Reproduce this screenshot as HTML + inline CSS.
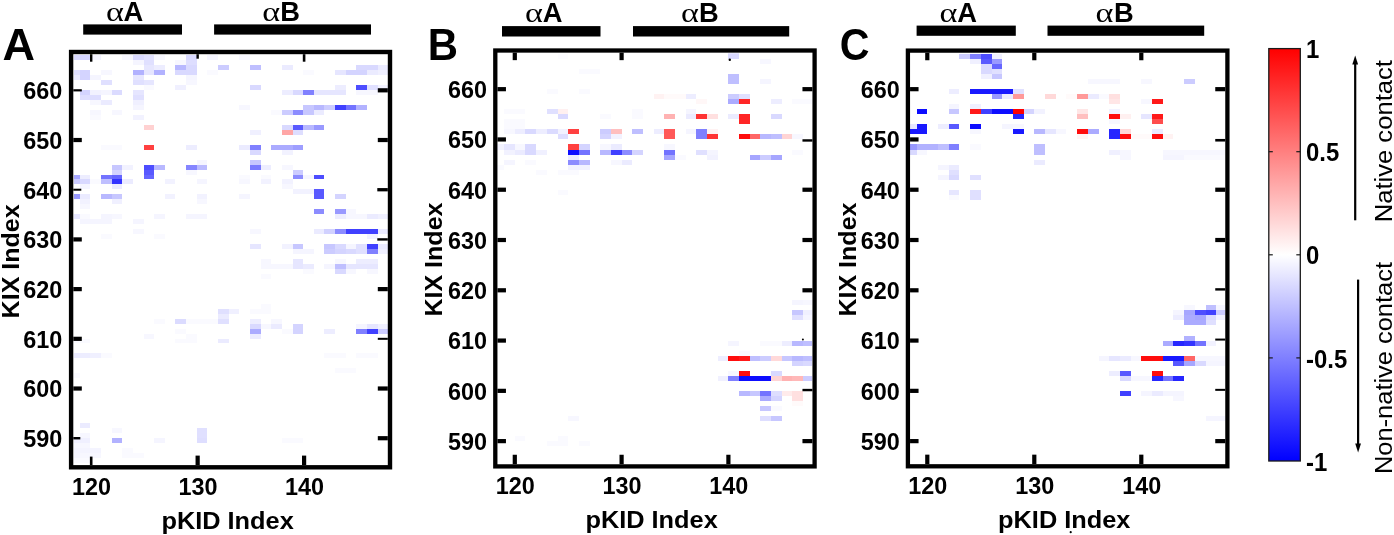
<!DOCTYPE html>
<html><head><meta charset="utf-8"><title>Contact maps</title>
<style>html,body{margin:0;padding:0;background:#fff;overflow:hidden}svg{display:block}text{fill:#000}</style>
</head><body>
<svg width="1394" height="535" viewBox="0 0 1394 535"><g id="panelA">
<g shape-rendering="crispEdges">
<rect x="74.33" y="457.80" width="15.97" height="4.97" fill="#fafaff"/>
<rect x="74.33" y="452.83" width="5.32" height="4.97" fill="#f5f5ff"/>
<rect x="79.66" y="452.83" width="21.29" height="4.97" fill="#f7f7ff"/>
<rect x="122.23" y="452.83" width="21.29" height="4.97" fill="#fafaff"/>
<rect x="74.33" y="447.86" width="26.61" height="4.97" fill="#f4f4ff"/>
<rect x="122.23" y="447.86" width="10.64" height="4.97" fill="#fafaff"/>
<rect x="74.33" y="442.89" width="15.97" height="4.97" fill="#f7f7ff"/>
<rect x="74.33" y="437.92" width="15.97" height="4.97" fill="#f0f0ff"/>
<rect x="111.59" y="437.92" width="10.64" height="4.97" fill="#b2b2ff"/>
<rect x="154.17" y="437.92" width="10.65" height="4.97" fill="#f5f5ff"/>
<rect x="196.75" y="437.92" width="10.64" height="4.97" fill="#dedeff"/>
<rect x="281.91" y="437.92" width="21.29" height="4.97" fill="#fafaff"/>
<rect x="79.66" y="432.95" width="10.64" height="4.97" fill="#f7f7ff"/>
<rect x="196.75" y="432.95" width="10.64" height="4.97" fill="#e0e0ff"/>
<rect x="111.59" y="427.98" width="10.64" height="4.97" fill="#f7f7ff"/>
<rect x="196.75" y="427.98" width="10.64" height="4.97" fill="#e0e0ff"/>
<rect x="79.66" y="423.01" width="10.64" height="4.97" fill="#ebebff"/>
<rect x="74.33" y="373.31" width="5.32" height="4.97" fill="#fafaff"/>
<rect x="335.13" y="368.34" width="21.29" height="4.97" fill="#fafaff"/>
<rect x="74.33" y="353.43" width="5.32" height="4.97" fill="#ebebff"/>
<rect x="79.66" y="353.43" width="10.64" height="4.97" fill="#ededff"/>
<rect x="90.30" y="353.43" width="10.64" height="4.97" fill="#f0f0ff"/>
<rect x="100.94" y="353.43" width="10.65" height="4.97" fill="#fafaff"/>
<rect x="324.49" y="353.43" width="21.29" height="4.97" fill="#fafaff"/>
<rect x="356.43" y="353.43" width="21.29" height="4.97" fill="#fafaff"/>
<rect x="74.33" y="338.52" width="15.97" height="4.97" fill="#fafaff"/>
<rect x="175.46" y="338.52" width="21.29" height="4.97" fill="#fafaff"/>
<rect x="218.04" y="338.52" width="10.65" height="4.97" fill="#ebebff"/>
<rect x="143.52" y="333.55" width="10.65" height="4.97" fill="#f7f7ff"/>
<rect x="186.10" y="333.55" width="10.65" height="4.97" fill="#fafaff"/>
<rect x="249.97" y="333.55" width="10.65" height="4.97" fill="#ebebff"/>
<rect x="175.46" y="328.58" width="10.65" height="4.97" fill="#fafaff"/>
<rect x="249.97" y="328.58" width="10.65" height="4.97" fill="#ababff"/>
<rect x="281.91" y="328.58" width="10.65" height="4.97" fill="#fafaff"/>
<rect x="292.56" y="328.58" width="10.64" height="4.97" fill="#d4d4ff"/>
<rect x="324.49" y="328.58" width="10.64" height="4.97" fill="#ededff"/>
<rect x="356.43" y="328.58" width="10.64" height="4.97" fill="#8080ff"/>
<rect x="367.07" y="328.58" width="10.64" height="4.97" fill="#4040ff"/>
<rect x="377.71" y="328.58" width="10.09" height="4.97" fill="#ccccff"/>
<rect x="249.97" y="323.61" width="10.65" height="4.97" fill="#d9d9ff"/>
<rect x="260.62" y="323.61" width="10.64" height="4.97" fill="#f7f7ff"/>
<rect x="271.26" y="323.61" width="10.64" height="4.97" fill="#ebebff"/>
<rect x="292.56" y="323.61" width="10.64" height="4.97" fill="#d4d4ff"/>
<rect x="356.43" y="323.61" width="10.64" height="4.97" fill="#f5f5ff"/>
<rect x="367.07" y="323.61" width="10.64" height="4.97" fill="#e6e6ff"/>
<rect x="377.71" y="323.61" width="10.09" height="4.97" fill="#f0f0ff"/>
<rect x="154.17" y="318.64" width="10.65" height="4.97" fill="#fafaff"/>
<rect x="175.46" y="318.64" width="10.65" height="4.97" fill="#dbdbff"/>
<rect x="186.10" y="318.64" width="31.94" height="4.97" fill="#fafaff"/>
<rect x="218.04" y="318.64" width="10.65" height="4.97" fill="#e0e0ff"/>
<rect x="249.97" y="318.64" width="10.65" height="4.97" fill="#ededff"/>
<rect x="271.26" y="318.64" width="10.64" height="4.97" fill="#f7f7ff"/>
<rect x="218.04" y="313.67" width="10.65" height="4.97" fill="#ebebff"/>
<rect x="218.04" y="308.70" width="10.65" height="4.97" fill="#e0e0ff"/>
<rect x="228.69" y="308.70" width="10.64" height="4.97" fill="#f0f0ff"/>
<rect x="249.97" y="308.70" width="21.29" height="4.97" fill="#fafaff"/>
<rect x="260.62" y="303.73" width="10.64" height="4.97" fill="#fafaff"/>
<rect x="260.62" y="273.91" width="10.64" height="4.97" fill="#fafaff"/>
<rect x="303.20" y="268.94" width="10.64" height="4.97" fill="#fafaff"/>
<rect x="335.13" y="268.94" width="10.64" height="4.97" fill="#d9d9ff"/>
<rect x="345.78" y="268.94" width="10.65" height="4.97" fill="#f7f7ff"/>
<rect x="367.07" y="268.94" width="10.64" height="4.97" fill="#f7f7ff"/>
<rect x="260.62" y="263.97" width="31.94" height="4.97" fill="#f7f7ff"/>
<rect x="292.56" y="263.97" width="10.64" height="4.97" fill="#e6e6ff"/>
<rect x="303.20" y="263.97" width="10.64" height="4.97" fill="#ebebff"/>
<rect x="324.49" y="263.97" width="10.64" height="4.97" fill="#f5f5ff"/>
<rect x="335.13" y="263.97" width="10.64" height="4.97" fill="#bfbfff"/>
<rect x="345.78" y="263.97" width="31.94" height="4.97" fill="#e6e6ff"/>
<rect x="260.62" y="259.00" width="10.64" height="4.97" fill="#f7f7ff"/>
<rect x="292.56" y="259.00" width="10.64" height="4.97" fill="#e6e6ff"/>
<rect x="335.13" y="259.00" width="10.64" height="4.97" fill="#f7f7ff"/>
<rect x="356.43" y="259.00" width="21.29" height="4.97" fill="#ededff"/>
<rect x="292.56" y="249.06" width="21.29" height="4.97" fill="#f5f5ff"/>
<rect x="324.49" y="249.06" width="10.64" height="4.97" fill="#ccccff"/>
<rect x="335.13" y="249.06" width="10.64" height="4.97" fill="#d4d4ff"/>
<rect x="345.78" y="249.06" width="10.65" height="4.97" fill="#d9d9ff"/>
<rect x="356.43" y="249.06" width="10.64" height="4.97" fill="#e0e0ff"/>
<rect x="367.07" y="249.06" width="10.64" height="4.97" fill="#8080ff"/>
<rect x="377.71" y="249.06" width="10.09" height="4.97" fill="#f0f0ff"/>
<rect x="249.97" y="244.09" width="10.65" height="4.97" fill="#e6e6ff"/>
<rect x="281.91" y="244.09" width="10.65" height="4.97" fill="#f2f2ff"/>
<rect x="292.56" y="244.09" width="10.64" height="4.97" fill="#c7c7ff"/>
<rect x="324.49" y="244.09" width="10.64" height="4.97" fill="#c7c7ff"/>
<rect x="335.13" y="244.09" width="10.64" height="4.97" fill="#d9d9ff"/>
<rect x="345.78" y="244.09" width="10.65" height="4.97" fill="#f5f5ff"/>
<rect x="356.43" y="244.09" width="10.64" height="4.97" fill="#e0e0ff"/>
<rect x="367.07" y="244.09" width="10.64" height="4.97" fill="#4040ff"/>
<rect x="377.71" y="244.09" width="10.09" height="4.97" fill="#ebebff"/>
<rect x="100.94" y="234.15" width="10.65" height="4.97" fill="#fafaff"/>
<rect x="154.17" y="234.15" width="10.65" height="4.97" fill="#fafaff"/>
<rect x="367.07" y="234.15" width="10.64" height="4.97" fill="#f2f2ff"/>
<rect x="132.88" y="229.18" width="10.64" height="4.97" fill="#f7f7ff"/>
<rect x="249.97" y="229.18" width="10.65" height="4.97" fill="#f7f7ff"/>
<rect x="313.84" y="229.18" width="10.65" height="4.97" fill="#ebebff"/>
<rect x="324.49" y="229.18" width="10.64" height="4.97" fill="#d1d1ff"/>
<rect x="335.13" y="229.18" width="10.64" height="4.97" fill="#8c8cff"/>
<rect x="345.78" y="229.18" width="31.94" height="4.97" fill="#4040ff"/>
<rect x="377.71" y="229.18" width="10.09" height="4.97" fill="#ebebff"/>
<rect x="79.66" y="219.24" width="31.94" height="4.97" fill="#f5f5ff"/>
<rect x="132.88" y="219.24" width="10.64" height="4.97" fill="#f5f5ff"/>
<rect x="74.33" y="214.27" width="5.32" height="4.97" fill="#e6e6ff"/>
<rect x="79.66" y="214.27" width="10.64" height="4.97" fill="#fafaff"/>
<rect x="100.94" y="214.27" width="10.65" height="4.97" fill="#f5f5ff"/>
<rect x="111.59" y="214.27" width="10.64" height="4.97" fill="#f7f7ff"/>
<rect x="154.17" y="214.27" width="10.65" height="4.97" fill="#f5f5ff"/>
<rect x="186.10" y="214.27" width="21.29" height="4.97" fill="#f5f5ff"/>
<rect x="335.13" y="214.27" width="10.64" height="4.97" fill="#ededff"/>
<rect x="345.78" y="214.27" width="21.29" height="4.97" fill="#f7f7ff"/>
<rect x="367.07" y="214.27" width="10.64" height="4.97" fill="#ebebff"/>
<rect x="377.71" y="214.27" width="10.09" height="4.97" fill="#f0f0ff"/>
<rect x="313.84" y="209.30" width="10.65" height="4.97" fill="#8c8cff"/>
<rect x="335.13" y="209.30" width="10.64" height="4.97" fill="#9999ff"/>
<rect x="345.78" y="209.30" width="10.65" height="4.97" fill="#f7f7ff"/>
<rect x="79.66" y="204.33" width="10.64" height="4.97" fill="#f7f7ff"/>
<rect x="79.66" y="199.36" width="10.64" height="4.97" fill="#f2f2ff"/>
<rect x="111.59" y="199.36" width="10.64" height="4.97" fill="#f0f0ff"/>
<rect x="196.75" y="199.36" width="10.64" height="4.97" fill="#f7f7ff"/>
<rect x="74.33" y="194.39" width="5.32" height="4.97" fill="#9999ff"/>
<rect x="79.66" y="194.39" width="10.64" height="4.97" fill="#ebebff"/>
<rect x="100.94" y="194.39" width="10.65" height="4.97" fill="#b8b8ff"/>
<rect x="111.59" y="194.39" width="10.64" height="4.97" fill="#c7c7ff"/>
<rect x="164.81" y="194.39" width="10.64" height="4.97" fill="#f2f2ff"/>
<rect x="196.75" y="194.39" width="10.64" height="4.97" fill="#f2f2ff"/>
<rect x="239.33" y="194.39" width="10.64" height="4.97" fill="#f5f5ff"/>
<rect x="313.84" y="194.39" width="10.65" height="4.97" fill="#5959ff"/>
<rect x="335.13" y="194.39" width="10.64" height="4.97" fill="#d4d4ff"/>
<rect x="292.56" y="189.42" width="21.29" height="4.97" fill="#f2f2ff"/>
<rect x="313.84" y="189.42" width="10.65" height="4.97" fill="#5959ff"/>
<rect x="79.66" y="184.45" width="10.64" height="4.97" fill="#f5f5ff"/>
<rect x="111.59" y="184.45" width="10.64" height="4.97" fill="#ebebff"/>
<rect x="281.91" y="184.45" width="10.65" height="4.97" fill="#f7f7ff"/>
<rect x="74.33" y="179.48" width="5.32" height="4.97" fill="#ccccff"/>
<rect x="79.66" y="179.48" width="10.64" height="4.97" fill="#d9d9ff"/>
<rect x="90.30" y="179.48" width="10.64" height="4.97" fill="#fafaff"/>
<rect x="100.94" y="179.48" width="10.65" height="4.97" fill="#bfbfff"/>
<rect x="111.59" y="179.48" width="10.64" height="4.97" fill="#3333ff"/>
<rect x="122.23" y="179.48" width="10.64" height="4.97" fill="#ebebff"/>
<rect x="164.81" y="179.48" width="10.64" height="4.97" fill="#f2f2ff"/>
<rect x="196.75" y="179.48" width="10.64" height="4.97" fill="#f5f5ff"/>
<rect x="239.33" y="179.48" width="10.64" height="4.97" fill="#f7f7ff"/>
<rect x="260.62" y="179.48" width="10.64" height="4.97" fill="#f2f2ff"/>
<rect x="281.91" y="179.48" width="10.65" height="4.97" fill="#f2f2ff"/>
<rect x="74.33" y="174.51" width="5.32" height="4.97" fill="#a6a6ff"/>
<rect x="79.66" y="174.51" width="10.64" height="4.97" fill="#ededff"/>
<rect x="100.94" y="174.51" width="10.65" height="4.97" fill="#7373ff"/>
<rect x="111.59" y="174.51" width="10.64" height="4.97" fill="#6666ff"/>
<rect x="143.52" y="174.51" width="10.65" height="4.97" fill="#6666ff"/>
<rect x="239.33" y="174.51" width="10.64" height="4.97" fill="#fafaff"/>
<rect x="260.62" y="174.51" width="10.64" height="4.97" fill="#fafaff"/>
<rect x="292.56" y="174.51" width="10.64" height="4.97" fill="#8c8cff"/>
<rect x="303.20" y="174.51" width="10.64" height="4.97" fill="#f5f5ff"/>
<rect x="313.84" y="174.51" width="10.65" height="4.97" fill="#4d4dff"/>
<rect x="111.59" y="169.54" width="10.64" height="4.97" fill="#d4d4ff"/>
<rect x="143.52" y="169.54" width="10.65" height="4.97" fill="#5959ff"/>
<rect x="186.10" y="169.54" width="10.65" height="4.97" fill="#f7f7ff"/>
<rect x="292.56" y="169.54" width="10.64" height="4.97" fill="#ccccff"/>
<rect x="111.59" y="164.57" width="10.64" height="4.97" fill="#c7c7ff"/>
<rect x="122.23" y="164.57" width="10.64" height="4.97" fill="#f2f2ff"/>
<rect x="143.52" y="164.57" width="10.65" height="4.97" fill="#4d4dff"/>
<rect x="154.17" y="164.57" width="10.65" height="4.97" fill="#b8b8ff"/>
<rect x="186.10" y="164.57" width="10.65" height="4.97" fill="#8585ff"/>
<rect x="196.75" y="164.57" width="10.64" height="4.97" fill="#babaff"/>
<rect x="249.97" y="164.57" width="10.65" height="4.97" fill="#7a7aff"/>
<rect x="260.62" y="164.57" width="10.64" height="4.97" fill="#ededff"/>
<rect x="281.91" y="164.57" width="10.65" height="4.97" fill="#f7f7ff"/>
<rect x="196.75" y="159.60" width="10.64" height="4.97" fill="#f5f5ff"/>
<rect x="249.97" y="159.60" width="10.65" height="4.97" fill="#c7c7ff"/>
<rect x="249.97" y="149.66" width="10.65" height="4.97" fill="#d9d9ff"/>
<rect x="281.91" y="149.66" width="10.65" height="4.97" fill="#f2f2ff"/>
<rect x="100.94" y="144.69" width="21.29" height="4.97" fill="#fafaff"/>
<rect x="143.52" y="144.69" width="10.65" height="4.97" fill="#ff4040"/>
<rect x="186.10" y="144.69" width="10.65" height="4.97" fill="#ededff"/>
<rect x="239.33" y="144.69" width="10.64" height="4.97" fill="#ebebff"/>
<rect x="249.97" y="144.69" width="10.65" height="4.97" fill="#8080ff"/>
<rect x="271.26" y="144.69" width="21.29" height="4.97" fill="#ababff"/>
<rect x="292.56" y="144.69" width="10.64" height="4.97" fill="#9e9eff"/>
<rect x="249.97" y="129.78" width="10.65" height="4.97" fill="#f0f0ff"/>
<rect x="281.91" y="129.78" width="10.65" height="4.97" fill="#ffa6a6"/>
<rect x="292.56" y="129.78" width="10.64" height="4.97" fill="#dedeff"/>
<rect x="143.52" y="124.81" width="10.65" height="4.97" fill="#ffd1d1"/>
<rect x="281.91" y="124.81" width="10.65" height="4.97" fill="#d9d9ff"/>
<rect x="292.56" y="124.81" width="10.64" height="4.97" fill="#5959ff"/>
<rect x="303.20" y="124.81" width="10.64" height="4.97" fill="#b8b8ff"/>
<rect x="313.84" y="124.81" width="10.65" height="4.97" fill="#9999ff"/>
<rect x="90.30" y="114.87" width="10.64" height="4.97" fill="#fafaff"/>
<rect x="132.88" y="114.87" width="10.64" height="4.97" fill="#f2f2ff"/>
<rect x="90.30" y="109.90" width="10.64" height="4.97" fill="#f7f7ff"/>
<rect x="111.59" y="109.90" width="10.64" height="4.97" fill="#f7f7ff"/>
<rect x="271.26" y="109.90" width="10.64" height="4.97" fill="#fafaff"/>
<rect x="281.91" y="109.90" width="10.65" height="4.97" fill="#ccccff"/>
<rect x="292.56" y="109.90" width="10.64" height="4.97" fill="#8c8cff"/>
<rect x="303.20" y="109.90" width="10.64" height="4.97" fill="#c7c7ff"/>
<rect x="313.84" y="109.90" width="10.65" height="4.97" fill="#ebebff"/>
<rect x="132.88" y="104.93" width="10.64" height="4.97" fill="#f5f5ff"/>
<rect x="239.33" y="104.93" width="10.64" height="4.97" fill="#f7f7ff"/>
<rect x="303.20" y="104.93" width="10.64" height="4.97" fill="#c7c7ff"/>
<rect x="313.84" y="104.93" width="10.65" height="4.97" fill="#b8b8ff"/>
<rect x="324.49" y="104.93" width="10.64" height="4.97" fill="#ccccff"/>
<rect x="335.13" y="104.93" width="10.64" height="4.97" fill="#4040ff"/>
<rect x="345.78" y="104.93" width="10.65" height="4.97" fill="#7373ff"/>
<rect x="356.43" y="104.93" width="10.64" height="4.97" fill="#b2b2ff"/>
<rect x="90.30" y="99.96" width="10.64" height="4.97" fill="#f7f7ff"/>
<rect x="100.94" y="99.96" width="10.65" height="4.97" fill="#ebebff"/>
<rect x="132.88" y="99.96" width="10.64" height="4.97" fill="#f0f0ff"/>
<rect x="79.66" y="94.99" width="10.64" height="4.97" fill="#dedeff"/>
<rect x="90.30" y="94.99" width="10.64" height="4.97" fill="#dedeff"/>
<rect x="132.88" y="94.99" width="10.64" height="4.97" fill="#e0e0ff"/>
<rect x="79.66" y="90.02" width="10.64" height="4.97" fill="#d4d4ff"/>
<rect x="90.30" y="90.02" width="10.64" height="4.97" fill="#f2f2ff"/>
<rect x="100.94" y="90.02" width="10.65" height="4.97" fill="#f5f5ff"/>
<rect x="111.59" y="90.02" width="10.64" height="4.97" fill="#dbdbff"/>
<rect x="132.88" y="90.02" width="10.64" height="4.97" fill="#e6e6ff"/>
<rect x="281.91" y="90.02" width="10.65" height="4.97" fill="#ededff"/>
<rect x="292.56" y="90.02" width="10.64" height="4.97" fill="#d9d9ff"/>
<rect x="303.20" y="90.02" width="10.64" height="4.97" fill="#8080ff"/>
<rect x="313.84" y="90.02" width="21.29" height="4.97" fill="#e6e6ff"/>
<rect x="335.13" y="90.02" width="10.64" height="4.97" fill="#e6e6ff"/>
<rect x="356.43" y="90.02" width="21.29" height="4.97" fill="#f7f7ff"/>
<rect x="143.52" y="85.05" width="10.65" height="4.97" fill="#fafaff"/>
<rect x="175.46" y="85.05" width="10.65" height="4.97" fill="#f0f0ff"/>
<rect x="249.97" y="85.05" width="10.65" height="4.97" fill="#d9d9ff"/>
<rect x="335.13" y="85.05" width="10.64" height="4.97" fill="#ededff"/>
<rect x="356.43" y="85.05" width="10.64" height="4.97" fill="#4d4dff"/>
<rect x="367.07" y="85.05" width="10.64" height="4.97" fill="#e0e0ff"/>
<rect x="377.71" y="85.05" width="10.09" height="4.97" fill="#f2f2ff"/>
<rect x="100.94" y="80.08" width="10.65" height="4.97" fill="#e0e0ff"/>
<rect x="132.88" y="80.08" width="10.64" height="4.97" fill="#e0e0ff"/>
<rect x="143.52" y="80.08" width="10.65" height="4.97" fill="#e6e6ff"/>
<rect x="186.10" y="80.08" width="10.65" height="4.97" fill="#f7f7ff"/>
<rect x="74.33" y="75.11" width="5.32" height="4.97" fill="#ebebff"/>
<rect x="79.66" y="75.11" width="10.64" height="4.97" fill="#d4d4ff"/>
<rect x="90.30" y="75.11" width="10.64" height="4.97" fill="#f5f5ff"/>
<rect x="132.88" y="75.11" width="10.64" height="4.97" fill="#e6e6ff"/>
<rect x="186.10" y="75.11" width="10.65" height="4.97" fill="#f5f5ff"/>
<rect x="74.33" y="70.14" width="5.32" height="4.97" fill="#e0e0ff"/>
<rect x="79.66" y="70.14" width="10.64" height="4.97" fill="#d4d4ff"/>
<rect x="100.94" y="70.14" width="10.65" height="4.97" fill="#f7f7ff"/>
<rect x="132.88" y="70.14" width="10.64" height="4.97" fill="#b2b2ff"/>
<rect x="143.52" y="70.14" width="10.65" height="4.97" fill="#e6e6ff"/>
<rect x="154.17" y="70.14" width="10.65" height="4.97" fill="#b2b2ff"/>
<rect x="175.46" y="70.14" width="10.65" height="4.97" fill="#d9d9ff"/>
<rect x="186.10" y="70.14" width="10.65" height="4.97" fill="#d9d9ff"/>
<rect x="207.39" y="70.14" width="10.65" height="4.97" fill="#fafaff"/>
<rect x="303.20" y="70.14" width="10.64" height="4.97" fill="#fafaff"/>
<rect x="335.13" y="70.14" width="10.64" height="4.97" fill="#e6e6ff"/>
<rect x="345.78" y="70.14" width="21.29" height="4.97" fill="#d4d4ff"/>
<rect x="367.07" y="70.14" width="10.64" height="4.97" fill="#ebebff"/>
<rect x="377.71" y="70.14" width="10.09" height="4.97" fill="#f0f0ff"/>
<rect x="143.52" y="65.17" width="10.65" height="4.97" fill="#e6e6ff"/>
<rect x="154.17" y="65.17" width="10.65" height="4.97" fill="#ededff"/>
<rect x="175.46" y="65.17" width="10.65" height="4.97" fill="#b8b8ff"/>
<rect x="186.10" y="65.17" width="10.65" height="4.97" fill="#d9d9ff"/>
<rect x="218.04" y="65.17" width="10.65" height="4.97" fill="#ccccff"/>
<rect x="249.97" y="65.17" width="10.65" height="4.97" fill="#bfbfff"/>
<rect x="281.91" y="65.17" width="10.65" height="4.97" fill="#ebebff"/>
<rect x="356.43" y="65.17" width="21.29" height="4.97" fill="#d9d9ff"/>
<rect x="377.71" y="65.17" width="10.09" height="4.97" fill="#ebebff"/>
<rect x="132.88" y="60.20" width="10.64" height="4.97" fill="#f5f5ff"/>
<rect x="143.52" y="60.20" width="10.65" height="4.97" fill="#e0e0ff"/>
<rect x="175.46" y="60.20" width="10.65" height="4.97" fill="#f7f7ff"/>
<rect x="186.10" y="60.20" width="10.65" height="4.97" fill="#dedeff"/>
<rect x="74.33" y="55.23" width="5.32" height="4.97" fill="#d9d9ff"/>
<rect x="79.66" y="55.23" width="10.64" height="4.97" fill="#d4d4ff"/>
<rect x="90.30" y="55.23" width="10.64" height="4.97" fill="#f2f2ff"/>
<rect x="122.23" y="55.23" width="10.64" height="4.97" fill="#f7f7ff"/>
<rect x="132.88" y="55.23" width="10.64" height="4.97" fill="#d9d9ff"/>
<rect x="143.52" y="55.23" width="10.65" height="4.97" fill="#e0e0ff"/>
<rect x="154.17" y="55.23" width="10.65" height="4.97" fill="#f7f7ff"/>
<rect x="186.10" y="55.23" width="10.65" height="4.97" fill="#d9d9ff"/>
<rect x="207.39" y="55.23" width="10.65" height="4.97" fill="#f5f5ff"/>
<rect x="239.33" y="55.23" width="10.64" height="4.97" fill="#f7f7ff"/>
</g>
<rect x="90.00" y="54.20" width="2.4" height="7.5" fill="#000"/>
<rect x="89.90" y="456.60" width="2.6" height="8.5" fill="#000"/>
<text transform="translate(91.60,495.4) scale(0.992,1)" text-anchor="middle" font-family="'Liberation Sans', Arial, Helvetica, sans-serif" font-weight="bold" font-size="23.6">120</text>
<rect x="196.45" y="54.20" width="2.4" height="4.5" fill="#000"/>
<rect x="195.55" y="455.60" width="4.2" height="9.5" fill="#000"/>
<text transform="translate(198.05,495.4) scale(0.992,1)" text-anchor="middle" font-family="'Liberation Sans', Arial, Helvetica, sans-serif" font-weight="bold" font-size="23.6">130</text>
<rect x="302.80" y="54.20" width="2.6" height="7.5" fill="#000"/>
<rect x="302.00" y="455.60" width="4.2" height="9.5" fill="#000"/>
<text transform="translate(304.50,495.4) scale(0.992,1)" text-anchor="middle" font-family="'Liberation Sans', Arial, Helvetica, sans-serif" font-weight="bold" font-size="23.6">140</text>
<rect x="73.30" y="437.02" width="7" height="2.4" fill="#000"/>
<rect x="377.80" y="436.12" width="10.0" height="4.2" fill="#000"/>
<text transform="translate(62.30,447.02) scale(0.992,1)" text-anchor="end" font-family="'Liberation Sans', Arial, Helvetica, sans-serif" font-weight="bold" font-size="23.6">590</text>
<rect x="73.30" y="386.42" width="8.5" height="4.2" fill="#000"/>
<rect x="377.80" y="386.42" width="10.0" height="4.2" fill="#000"/>
<text transform="translate(62.30,397.32) scale(0.992,1)" text-anchor="end" font-family="'Liberation Sans', Arial, Helvetica, sans-serif" font-weight="bold" font-size="23.6">600</text>
<rect x="73.30" y="336.72" width="8.5" height="4.2" fill="#000"/>
<rect x="377.80" y="337.82" width="10" height="2.0" fill="#000"/>
<text transform="translate(62.30,347.62) scale(0.992,1)" text-anchor="end" font-family="'Liberation Sans', Arial, Helvetica, sans-serif" font-weight="bold" font-size="23.6">610</text>
<rect x="73.30" y="287.02" width="8.5" height="4.2" fill="#000"/>
<rect x="377.80" y="287.02" width="10.0" height="4.2" fill="#000"/>
<text transform="translate(62.30,297.92) scale(0.992,1)" text-anchor="end" font-family="'Liberation Sans', Arial, Helvetica, sans-serif" font-weight="bold" font-size="23.6">620</text>
<rect x="73.30" y="237.32" width="8.5" height="4.2" fill="#000"/>
<rect x="377.30" y="238.22" width="10.5" height="2.4" fill="#000"/>
<text transform="translate(62.30,248.22) scale(0.992,1)" text-anchor="end" font-family="'Liberation Sans', Arial, Helvetica, sans-serif" font-weight="bold" font-size="23.6">630</text>
<rect x="73.30" y="188.72" width="8" height="2.0" fill="#000"/>
<rect x="377.30" y="188.07" width="10.5" height="3.3" fill="#000"/>
<text transform="translate(62.30,198.52) scale(0.992,1)" text-anchor="end" font-family="'Liberation Sans', Arial, Helvetica, sans-serif" font-weight="bold" font-size="23.6">640</text>
<rect x="73.30" y="137.92" width="8.5" height="4.2" fill="#000"/>
<rect x="377.80" y="137.92" width="10.0" height="4.2" fill="#000"/>
<text transform="translate(62.30,148.82) scale(0.992,1)" text-anchor="end" font-family="'Liberation Sans', Arial, Helvetica, sans-serif" font-weight="bold" font-size="23.6">650</text>
<rect x="73.30" y="89.22" width="8.5" height="2.2" fill="#000"/>
<rect x="377.80" y="88.22" width="10.0" height="4.2" fill="#000"/>
<text transform="translate(62.30,99.12) scale(0.992,1)" text-anchor="end" font-family="'Liberation Sans', Arial, Helvetica, sans-serif" font-weight="bold" font-size="23.6">660</text>
<rect x="71.1" y="52.0" width="318.9" height="415.3" fill="none" stroke="#000" stroke-width="4.4"/>
<rect x="83.2" y="24.4" width="98.80" height="10.20" fill="#000"/>
<rect x="214.1" y="24.4" width="156.90" height="10.20" fill="#000"/>
<text transform="translate(106.00,20.5) scale(1.22,1)" font-family="'Liberation Serif', 'DejaVu Serif', serif" font-size="28">α</text>
<text x="123.50" y="20.5" font-family="'Liberation Sans', Arial, Helvetica, sans-serif" font-weight="bold" font-size="27.3">A</text>
<text transform="translate(262.30,20.5) scale(1.22,1)" font-family="'Liberation Serif', 'DejaVu Serif', serif" font-size="28">α</text>
<text x="280.30" y="20.5" font-family="'Liberation Sans', Arial, Helvetica, sans-serif" font-weight="bold" font-size="27.3">B</text>
<text transform="translate(2.6,59.6) scale(1.0,1)" font-family="'Liberation Sans', Arial, Helvetica, sans-serif" font-weight="bold" font-size="45">A</text>
<text transform="translate(161.40,528.5) scale(1.052,1)" font-family="'Liberation Sans', Arial, Helvetica, sans-serif" font-weight="bold" font-size="24.1">pKID Index</text>
<text transform="translate(18.6,318.4) rotate(-90) scale(1.08,1)" font-family="'Liberation Sans', Arial, Helvetica, sans-serif" font-weight="bold" font-size="23.2">KIX Index</text>
</g>
<g id="panelB">
<g shape-rendering="crispEdges">
<rect x="546.84" y="441.13" width="21.36" height="5.03" fill="#fafaff"/>
<rect x="578.88" y="441.13" width="10.68" height="5.03" fill="#fafaff"/>
<rect x="514.80" y="436.10" width="10.68" height="5.03" fill="#fafaff"/>
<rect x="557.52" y="436.10" width="10.68" height="5.03" fill="#fafaff"/>
<rect x="568.20" y="415.99" width="10.68" height="5.03" fill="#f7f7ff"/>
<rect x="760.44" y="415.99" width="10.68" height="5.03" fill="#dedeff"/>
<rect x="771.12" y="415.99" width="10.68" height="5.03" fill="#c7c7ff"/>
<rect x="760.44" y="405.93" width="10.68" height="5.03" fill="#c7c7ff"/>
<rect x="771.12" y="405.93" width="10.68" height="5.03" fill="#fafaff"/>
<rect x="792.48" y="400.91" width="10.68" height="5.03" fill="#fffafa"/>
<rect x="760.44" y="395.88" width="10.68" height="5.03" fill="#ababff"/>
<rect x="771.12" y="395.88" width="10.68" height="5.03" fill="#d4d4ff"/>
<rect x="792.48" y="395.88" width="10.68" height="5.03" fill="#ffe0e0"/>
<rect x="739.08" y="390.85" width="10.68" height="5.03" fill="#b8b8ff"/>
<rect x="749.76" y="390.85" width="10.68" height="5.03" fill="#c7c7ff"/>
<rect x="760.44" y="390.85" width="10.68" height="5.03" fill="#7373ff"/>
<rect x="771.12" y="390.85" width="10.68" height="5.03" fill="#dedeff"/>
<rect x="781.80" y="390.85" width="10.68" height="5.03" fill="#ffebeb"/>
<rect x="792.48" y="390.85" width="10.68" height="5.03" fill="#ffe0e0"/>
<rect x="717.72" y="375.77" width="10.68" height="5.03" fill="#f0f0ff"/>
<rect x="728.40" y="375.77" width="10.68" height="5.03" fill="#8080ff"/>
<rect x="739.08" y="375.77" width="32.04" height="5.03" fill="#0d0dff"/>
<rect x="771.12" y="375.77" width="10.68" height="5.03" fill="#ffd4d4"/>
<rect x="781.80" y="375.77" width="10.68" height="5.03" fill="#ffb2b2"/>
<rect x="792.48" y="375.77" width="10.68" height="5.03" fill="#ffb8b8"/>
<rect x="803.16" y="375.77" width="9.29" height="5.03" fill="#ccccff"/>
<rect x="728.40" y="370.74" width="10.68" height="5.03" fill="#f7f7ff"/>
<rect x="739.08" y="370.74" width="10.68" height="5.03" fill="#ff0d0d"/>
<rect x="771.12" y="370.74" width="10.68" height="5.03" fill="#d9d9ff"/>
<rect x="792.48" y="360.68" width="10.68" height="5.03" fill="#d4d4ff"/>
<rect x="803.16" y="360.68" width="9.29" height="5.03" fill="#d9d9ff"/>
<rect x="717.72" y="355.65" width="10.68" height="5.03" fill="#ededff"/>
<rect x="728.40" y="355.65" width="10.68" height="5.03" fill="#ff0d0d"/>
<rect x="739.08" y="355.65" width="10.68" height="5.03" fill="#ff1919"/>
<rect x="749.76" y="355.65" width="10.68" height="5.03" fill="#bfbfff"/>
<rect x="760.44" y="355.65" width="10.68" height="5.03" fill="#ccccff"/>
<rect x="771.12" y="355.65" width="10.68" height="5.03" fill="#ffd9d9"/>
<rect x="781.80" y="355.65" width="10.68" height="5.03" fill="#c7c7ff"/>
<rect x="792.48" y="355.65" width="10.68" height="5.03" fill="#b8b8ff"/>
<rect x="803.16" y="355.65" width="9.29" height="5.03" fill="#bfbfff"/>
<rect x="739.08" y="350.63" width="10.68" height="5.03" fill="#fafaff"/>
<rect x="728.40" y="340.57" width="10.68" height="5.03" fill="#f5f5ff"/>
<rect x="760.44" y="340.57" width="21.36" height="5.03" fill="#fafaff"/>
<rect x="781.80" y="340.57" width="10.68" height="5.03" fill="#ededff"/>
<rect x="792.48" y="340.57" width="10.68" height="5.03" fill="#b8b8ff"/>
<rect x="803.16" y="340.57" width="9.29" height="5.03" fill="#bfbfff"/>
<rect x="792.48" y="315.43" width="10.68" height="5.03" fill="#e0e0ff"/>
<rect x="803.16" y="315.43" width="9.29" height="5.03" fill="#f5f5ff"/>
<rect x="792.48" y="310.40" width="10.68" height="5.03" fill="#c7c7ff"/>
<rect x="803.16" y="310.40" width="9.29" height="5.03" fill="#f0f0ff"/>
<rect x="792.48" y="300.35" width="10.68" height="5.03" fill="#f5f5ff"/>
<rect x="803.16" y="300.35" width="9.29" height="5.03" fill="#f7f7ff"/>
<rect x="557.52" y="189.73" width="10.68" height="5.03" fill="#fafaff"/>
<rect x="536.16" y="169.62" width="10.68" height="5.03" fill="#fafaff"/>
<rect x="557.52" y="169.62" width="21.36" height="5.03" fill="#fafaff"/>
<rect x="497.45" y="164.59" width="6.67" height="5.03" fill="#fafaff"/>
<rect x="568.20" y="164.59" width="21.36" height="5.03" fill="#f2f2ff"/>
<rect x="504.12" y="159.56" width="10.68" height="5.03" fill="#f5f5ff"/>
<rect x="525.48" y="159.56" width="10.68" height="5.03" fill="#fafaff"/>
<rect x="568.20" y="159.56" width="10.68" height="5.03" fill="#8c8cff"/>
<rect x="578.88" y="159.56" width="10.68" height="5.03" fill="#b8b8ff"/>
<rect x="610.92" y="159.56" width="10.68" height="5.03" fill="#f7f7ff"/>
<rect x="621.60" y="159.56" width="10.68" height="5.03" fill="#ebebff"/>
<rect x="568.20" y="154.53" width="10.68" height="5.03" fill="#ebebff"/>
<rect x="664.32" y="154.53" width="10.68" height="5.03" fill="#a6a6ff"/>
<rect x="675.00" y="154.53" width="10.68" height="5.03" fill="#fafaff"/>
<rect x="707.04" y="154.53" width="10.68" height="5.03" fill="#f2f2ff"/>
<rect x="749.76" y="154.53" width="10.68" height="5.03" fill="#a6a6ff"/>
<rect x="760.44" y="154.53" width="10.68" height="5.03" fill="#ccccff"/>
<rect x="771.12" y="154.53" width="10.68" height="5.03" fill="#a6a6ff"/>
<rect x="504.12" y="149.51" width="10.68" height="5.03" fill="#f2f2ff"/>
<rect x="514.80" y="149.51" width="10.68" height="5.03" fill="#ebebff"/>
<rect x="525.48" y="149.51" width="10.68" height="5.03" fill="#d9d9ff"/>
<rect x="536.16" y="149.51" width="10.68" height="5.03" fill="#f0f0ff"/>
<rect x="568.20" y="149.51" width="10.68" height="5.03" fill="#0d0dff"/>
<rect x="578.88" y="149.51" width="10.68" height="5.03" fill="#7373ff"/>
<rect x="600.24" y="149.51" width="10.68" height="5.03" fill="#b8b8ff"/>
<rect x="610.92" y="149.51" width="10.68" height="5.03" fill="#4040ff"/>
<rect x="621.60" y="149.51" width="10.68" height="5.03" fill="#8c8cff"/>
<rect x="632.28" y="149.51" width="10.68" height="5.03" fill="#d4d4ff"/>
<rect x="664.32" y="149.51" width="10.68" height="5.03" fill="#7373ff"/>
<rect x="696.36" y="149.51" width="10.68" height="5.03" fill="#e0e0ff"/>
<rect x="707.04" y="149.51" width="10.68" height="5.03" fill="#f5f5ff"/>
<rect x="792.48" y="149.51" width="10.68" height="5.03" fill="#fafaff"/>
<rect x="497.45" y="144.48" width="6.67" height="5.03" fill="#f2f2ff"/>
<rect x="504.12" y="144.48" width="10.68" height="5.03" fill="#e6e6ff"/>
<rect x="514.80" y="144.48" width="10.68" height="5.03" fill="#f7f7ff"/>
<rect x="525.48" y="144.48" width="10.68" height="5.03" fill="#d9d9ff"/>
<rect x="568.20" y="144.48" width="10.68" height="5.03" fill="#ff4040"/>
<rect x="578.88" y="144.48" width="10.68" height="5.03" fill="#d4d4ff"/>
<rect x="600.24" y="144.48" width="10.68" height="5.03" fill="#f7f7ff"/>
<rect x="610.92" y="144.48" width="10.68" height="5.03" fill="#ebebff"/>
<rect x="664.32" y="144.48" width="10.68" height="5.03" fill="#f7f7ff"/>
<rect x="557.52" y="134.42" width="10.68" height="5.03" fill="#dedeff"/>
<rect x="600.24" y="134.42" width="10.68" height="5.03" fill="#d4d4ff"/>
<rect x="610.92" y="134.42" width="10.68" height="5.03" fill="#f2f2ff"/>
<rect x="664.32" y="134.42" width="10.68" height="5.03" fill="#ff5959"/>
<rect x="696.36" y="134.42" width="10.68" height="5.03" fill="#8080ff"/>
<rect x="707.04" y="134.42" width="10.68" height="5.03" fill="#ff3333"/>
<rect x="739.08" y="134.42" width="10.68" height="5.03" fill="#ff0d0d"/>
<rect x="749.76" y="134.42" width="10.68" height="5.03" fill="#ff6666"/>
<rect x="760.44" y="134.42" width="10.68" height="5.03" fill="#b8b8ff"/>
<rect x="771.12" y="134.42" width="10.68" height="5.03" fill="#bfbfff"/>
<rect x="781.80" y="134.42" width="10.68" height="5.03" fill="#ffd4d4"/>
<rect x="792.48" y="134.42" width="10.68" height="5.03" fill="#f7f7ff"/>
<rect x="504.12" y="129.39" width="10.68" height="5.03" fill="#f7f7ff"/>
<rect x="514.80" y="129.39" width="10.68" height="5.03" fill="#ededff"/>
<rect x="525.48" y="129.39" width="10.68" height="5.03" fill="#d9d9ff"/>
<rect x="536.16" y="129.39" width="10.68" height="5.03" fill="#ededff"/>
<rect x="546.84" y="129.39" width="10.68" height="5.03" fill="#dbdbff"/>
<rect x="557.52" y="129.39" width="10.68" height="5.03" fill="#f2f2ff"/>
<rect x="568.20" y="129.39" width="10.68" height="5.03" fill="#ff4040"/>
<rect x="600.24" y="129.39" width="10.68" height="5.03" fill="#ccccff"/>
<rect x="610.92" y="129.39" width="10.68" height="5.03" fill="#ffbfbf"/>
<rect x="632.28" y="129.39" width="10.68" height="5.03" fill="#bfbfff"/>
<rect x="653.64" y="129.39" width="10.68" height="5.03" fill="#ededff"/>
<rect x="664.32" y="129.39" width="10.68" height="5.03" fill="#ff5959"/>
<rect x="685.68" y="129.39" width="10.68" height="5.03" fill="#f5f5ff"/>
<rect x="696.36" y="129.39" width="10.68" height="5.03" fill="#8080ff"/>
<rect x="707.04" y="129.39" width="10.68" height="5.03" fill="#fff2f2"/>
<rect x="504.12" y="124.37" width="21.36" height="5.03" fill="#fafaff"/>
<rect x="504.12" y="119.34" width="21.36" height="5.03" fill="#fafaff"/>
<rect x="739.08" y="119.34" width="10.68" height="5.03" fill="#ff2626"/>
<rect x="557.52" y="114.31" width="10.68" height="5.03" fill="#d9d9ff"/>
<rect x="600.24" y="114.31" width="10.68" height="5.03" fill="#fafaff"/>
<rect x="632.28" y="114.31" width="10.68" height="5.03" fill="#fafaff"/>
<rect x="664.32" y="114.31" width="10.68" height="5.03" fill="#ffb2b2"/>
<rect x="685.68" y="114.31" width="10.68" height="5.03" fill="#ebebff"/>
<rect x="696.36" y="114.31" width="10.68" height="5.03" fill="#ff3333"/>
<rect x="707.04" y="114.31" width="10.68" height="5.03" fill="#ffe0e0"/>
<rect x="728.40" y="114.31" width="10.68" height="5.03" fill="#ebebff"/>
<rect x="739.08" y="114.31" width="10.68" height="5.03" fill="#ff2626"/>
<rect x="771.12" y="114.31" width="10.68" height="5.03" fill="#d9d9ff"/>
<rect x="504.12" y="109.28" width="21.36" height="5.03" fill="#fafaff"/>
<rect x="546.84" y="109.28" width="10.68" height="5.03" fill="#e0e0ff"/>
<rect x="557.52" y="109.28" width="10.68" height="5.03" fill="#fff0f0"/>
<rect x="632.28" y="109.28" width="10.68" height="5.03" fill="#fafaff"/>
<rect x="685.68" y="109.28" width="10.68" height="5.03" fill="#f5f5ff"/>
<rect x="696.36" y="99.23" width="10.68" height="5.03" fill="#fff7f7"/>
<rect x="728.40" y="99.23" width="10.68" height="5.03" fill="#ababff"/>
<rect x="739.08" y="99.23" width="10.68" height="5.03" fill="#ff2626"/>
<rect x="771.12" y="99.23" width="10.68" height="5.03" fill="#ededff"/>
<rect x="792.48" y="99.23" width="19.97" height="5.03" fill="#fafaff"/>
<rect x="653.64" y="94.20" width="10.68" height="5.03" fill="#fff2f2"/>
<rect x="664.32" y="94.20" width="21.36" height="5.03" fill="#fffafa"/>
<rect x="685.68" y="94.20" width="10.68" height="5.03" fill="#ededff"/>
<rect x="728.40" y="94.20" width="10.68" height="5.03" fill="#ccccff"/>
<rect x="739.08" y="94.20" width="10.68" height="5.03" fill="#e0e0ff"/>
<rect x="546.84" y="89.17" width="10.68" height="5.03" fill="#fafaff"/>
<rect x="578.88" y="89.17" width="10.68" height="5.03" fill="#fafaff"/>
<rect x="728.40" y="79.11" width="10.68" height="5.03" fill="#bfbfff"/>
<rect x="760.44" y="79.11" width="10.68" height="5.03" fill="#f5f5ff"/>
<rect x="728.40" y="74.09" width="10.68" height="5.03" fill="#bfbfff"/>
<rect x="578.88" y="69.06" width="21.36" height="5.03" fill="#fafaff"/>
<rect x="760.44" y="59.00" width="10.68" height="5.03" fill="#f7f7ff"/>
<rect x="557.52" y="53.97" width="10.68" height="5.03" fill="#fcfcff"/>
<rect x="728.40" y="53.97" width="10.68" height="5.03" fill="#d9d9ff"/>
<rect x="728.40" y="52.65" width="10.68" height="1.32" fill="#e6e6ff"/>
</g>
<rect x="512.70" y="52.65" width="4.2" height="7.5" fill="#000"/>
<rect x="512.70" y="454.75" width="4.2" height="9.5" fill="#000"/>
<text transform="translate(515.20,494.2) scale(0.992,1)" text-anchor="middle" font-family="'Liberation Sans', Arial, Helvetica, sans-serif" font-weight="bold" font-size="23.6">120</text>
<rect x="619.50" y="52.65" width="4.2" height="7.5" fill="#000"/>
<rect x="619.50" y="454.75" width="4.2" height="9.5" fill="#000"/>
<text transform="translate(622.00,494.2) scale(0.992,1)" text-anchor="middle" font-family="'Liberation Sans', Arial, Helvetica, sans-serif" font-weight="bold" font-size="23.6">130</text>
<rect x="726.30" y="454.75" width="4.2" height="9.5" fill="#000"/>
<text transform="translate(728.80,494.2) scale(0.992,1)" text-anchor="middle" font-family="'Liberation Sans', Arial, Helvetica, sans-serif" font-weight="bold" font-size="23.6">140</text>
<rect x="497.45" y="439.03" width="8.5" height="4.2" fill="#000"/>
<rect x="802.45" y="439.03" width="10.0" height="4.2" fill="#000"/>
<text transform="translate(487.10,449.93) scale(0.992,1)" text-anchor="end" font-family="'Liberation Sans', Arial, Helvetica, sans-serif" font-weight="bold" font-size="23.6">590</text>
<rect x="497.45" y="388.75" width="8.5" height="4.2" fill="#000"/>
<rect x="802.45" y="388.85" width="10.0" height="2.4" fill="#000"/>
<text transform="translate(487.10,399.65) scale(0.992,1)" text-anchor="end" font-family="'Liberation Sans', Arial, Helvetica, sans-serif" font-weight="bold" font-size="23.6">600</text>
<rect x="497.45" y="338.47" width="8.5" height="4.2" fill="#000"/>
<text transform="translate(487.10,349.37) scale(0.992,1)" text-anchor="end" font-family="'Liberation Sans', Arial, Helvetica, sans-serif" font-weight="bold" font-size="23.6">610</text>
<rect x="497.45" y="288.19" width="8.5" height="4.2" fill="#000"/>
<rect x="802.45" y="288.19" width="10.0" height="4.2" fill="#000"/>
<text transform="translate(487.10,299.09) scale(0.992,1)" text-anchor="end" font-family="'Liberation Sans', Arial, Helvetica, sans-serif" font-weight="bold" font-size="23.6">620</text>
<rect x="497.45" y="237.91" width="8.5" height="4.2" fill="#000"/>
<rect x="802.45" y="237.91" width="10.0" height="4.2" fill="#000"/>
<text transform="translate(487.10,248.81) scale(0.992,1)" text-anchor="end" font-family="'Liberation Sans', Arial, Helvetica, sans-serif" font-weight="bold" font-size="23.6">630</text>
<rect x="497.45" y="187.63" width="8.5" height="4.2" fill="#000"/>
<rect x="802.45" y="187.63" width="10.0" height="4.2" fill="#000"/>
<text transform="translate(487.10,198.53) scale(0.992,1)" text-anchor="end" font-family="'Liberation Sans', Arial, Helvetica, sans-serif" font-weight="bold" font-size="23.6">640</text>
<rect x="497.45" y="137.35" width="8.5" height="4.2" fill="#000"/>
<rect x="802.45" y="139.25" width="10.0" height="2.4" fill="#000"/>
<text transform="translate(487.10,148.25) scale(0.992,1)" text-anchor="end" font-family="'Liberation Sans', Arial, Helvetica, sans-serif" font-weight="bold" font-size="23.6">650</text>
<rect x="497.45" y="87.07" width="8.5" height="4.2" fill="#000"/>
<rect x="802.45" y="87.07" width="10.0" height="4.2" fill="#000"/>
<text transform="translate(487.10,97.97) scale(0.992,1)" text-anchor="end" font-family="'Liberation Sans', Arial, Helvetica, sans-serif" font-weight="bold" font-size="23.6">660</text>
<rect x="495.3" y="50.5" width="319.3" height="415.9" fill="none" stroke="#000" stroke-width="4.3"/>
<rect x="502.0" y="26.1" width="98.50" height="10.40" fill="#000"/>
<rect x="633.0" y="26.1" width="156.20" height="10.40" fill="#000"/>
<text transform="translate(524.90,22.0) scale(1.22,1)" font-family="'Liberation Serif', 'DejaVu Serif', serif" font-size="28">α</text>
<text x="542.70" y="22.0" font-family="'Liberation Sans', Arial, Helvetica, sans-serif" font-weight="bold" font-size="27.3">A</text>
<text transform="translate(681.00,22.0) scale(1.22,1)" font-family="'Liberation Serif', 'DejaVu Serif', serif" font-size="28">α</text>
<text x="699.00" y="22.0" font-family="'Liberation Sans', Arial, Helvetica, sans-serif" font-weight="bold" font-size="27.3">B</text>
<text transform="translate(427.8,59.6) scale(0.93,1)" font-family="'Liberation Sans', Arial, Helvetica, sans-serif" font-weight="bold" font-size="45">B</text>
<text transform="translate(585.40,527.8) scale(1.052,1)" font-family="'Liberation Sans', Arial, Helvetica, sans-serif" font-weight="bold" font-size="24.1">pKID Index</text>
<text transform="translate(442.4,316.6) rotate(-90) scale(1.08,1)" font-family="'Liberation Sans', Arial, Helvetica, sans-serif" font-weight="bold" font-size="23.2">KIX Index</text>
</g>
<g id="panelC">
<g shape-rendering="crispEdges">
<rect x="1205.50" y="415.99" width="19.75" height="5.03" fill="#f5f5ff"/>
<rect x="1173.40" y="395.88" width="10.70" height="5.03" fill="#f7f7ff"/>
<rect x="1119.90" y="390.85" width="10.70" height="5.03" fill="#4040ff"/>
<rect x="1141.30" y="390.85" width="10.70" height="5.03" fill="#f5f5ff"/>
<rect x="1152.00" y="390.85" width="10.70" height="5.03" fill="#ebebff"/>
<rect x="1162.70" y="390.85" width="21.40" height="5.03" fill="#f5f5ff"/>
<rect x="1119.90" y="375.77" width="10.70" height="5.03" fill="#d9d9ff"/>
<rect x="1130.60" y="375.77" width="21.40" height="5.03" fill="#f7f7ff"/>
<rect x="1152.00" y="375.77" width="10.70" height="5.03" fill="#2626ff"/>
<rect x="1162.70" y="375.77" width="10.70" height="5.03" fill="#7373ff"/>
<rect x="1173.40" y="375.77" width="10.70" height="5.03" fill="#2626ff"/>
<rect x="1109.20" y="370.74" width="10.70" height="5.03" fill="#ededff"/>
<rect x="1119.90" y="370.74" width="10.70" height="5.03" fill="#5959ff"/>
<rect x="1152.00" y="370.74" width="10.70" height="5.03" fill="#ff0d0d"/>
<rect x="1173.40" y="360.68" width="10.70" height="5.03" fill="#5959ff"/>
<rect x="1184.10" y="360.68" width="10.70" height="5.03" fill="#a6a6ff"/>
<rect x="1194.80" y="360.68" width="10.70" height="5.03" fill="#d9d9ff"/>
<rect x="1205.50" y="360.68" width="19.75" height="5.03" fill="#f5f5ff"/>
<rect x="1098.50" y="355.65" width="10.70" height="5.03" fill="#f5f5ff"/>
<rect x="1109.20" y="355.65" width="10.70" height="5.03" fill="#e6e6ff"/>
<rect x="1119.90" y="355.65" width="10.70" height="5.03" fill="#ebebff"/>
<rect x="1130.60" y="355.65" width="10.70" height="5.03" fill="#f7f7ff"/>
<rect x="1141.30" y="355.65" width="21.40" height="5.03" fill="#ff0d0d"/>
<rect x="1162.70" y="355.65" width="21.40" height="5.03" fill="#1919ff"/>
<rect x="1184.10" y="355.65" width="10.70" height="5.03" fill="#ff6666"/>
<rect x="1194.80" y="355.65" width="30.45" height="5.03" fill="#f7f7ff"/>
<rect x="1162.70" y="340.57" width="10.70" height="5.03" fill="#ababff"/>
<rect x="1173.40" y="340.57" width="10.70" height="5.03" fill="#2626ff"/>
<rect x="1184.10" y="340.57" width="10.70" height="5.03" fill="#3333ff"/>
<rect x="1194.80" y="340.57" width="10.70" height="5.03" fill="#7373ff"/>
<rect x="1205.50" y="340.57" width="10.70" height="5.03" fill="#f2f2ff"/>
<rect x="1184.10" y="335.54" width="10.70" height="5.03" fill="#b2b2ff"/>
<rect x="1184.10" y="320.46" width="10.70" height="5.03" fill="#ababff"/>
<rect x="1194.80" y="320.46" width="10.70" height="5.03" fill="#ababff"/>
<rect x="1205.50" y="320.46" width="10.70" height="5.03" fill="#e0e0ff"/>
<rect x="1173.40" y="315.43" width="10.70" height="5.03" fill="#ededff"/>
<rect x="1184.10" y="315.43" width="10.70" height="5.03" fill="#ababff"/>
<rect x="1194.80" y="315.43" width="10.70" height="5.03" fill="#a6a6ff"/>
<rect x="1205.50" y="315.43" width="10.70" height="5.03" fill="#d9d9ff"/>
<rect x="1216.20" y="315.43" width="9.05" height="5.03" fill="#f2f2ff"/>
<rect x="1173.40" y="310.40" width="10.70" height="5.03" fill="#f5f5ff"/>
<rect x="1184.10" y="310.40" width="10.70" height="5.03" fill="#a6a6ff"/>
<rect x="1194.80" y="310.40" width="10.70" height="5.03" fill="#4d4dff"/>
<rect x="1205.50" y="310.40" width="10.70" height="5.03" fill="#4040ff"/>
<rect x="1216.20" y="310.40" width="9.05" height="5.03" fill="#ccccff"/>
<rect x="1184.10" y="305.37" width="10.70" height="5.03" fill="#f7f7ff"/>
<rect x="1205.50" y="305.37" width="10.70" height="5.03" fill="#bfbfff"/>
<rect x="1216.20" y="305.37" width="9.05" height="5.03" fill="#f5f5ff"/>
<rect x="948.70" y="194.76" width="10.70" height="5.03" fill="#fafaff"/>
<rect x="970.10" y="194.76" width="10.70" height="5.03" fill="#e0e0ff"/>
<rect x="948.70" y="189.73" width="10.70" height="5.03" fill="#e6e6ff"/>
<rect x="970.10" y="189.73" width="10.70" height="5.03" fill="#e0e0ff"/>
<rect x="938.00" y="174.65" width="10.70" height="5.03" fill="#f5f5ff"/>
<rect x="948.70" y="174.65" width="10.70" height="5.03" fill="#d9d9ff"/>
<rect x="970.10" y="174.65" width="10.70" height="5.03" fill="#e0e0ff"/>
<rect x="948.70" y="169.62" width="10.70" height="5.03" fill="#e0e0ff"/>
<rect x="938.00" y="164.59" width="10.70" height="5.03" fill="#f5f5ff"/>
<rect x="948.70" y="164.59" width="10.70" height="5.03" fill="#ebebff"/>
<rect x="1034.30" y="159.56" width="10.70" height="5.03" fill="#ebebff"/>
<rect x="1119.90" y="154.53" width="10.70" height="5.03" fill="#f7f7ff"/>
<rect x="1162.70" y="154.53" width="21.40" height="5.03" fill="#f5f5ff"/>
<rect x="1184.10" y="154.53" width="41.15" height="5.03" fill="#fafaff"/>
<rect x="910.05" y="149.51" width="6.55" height="5.03" fill="#d9d9ff"/>
<rect x="916.60" y="149.51" width="10.70" height="5.03" fill="#f7f7ff"/>
<rect x="1034.30" y="149.51" width="10.70" height="5.03" fill="#bfbfff"/>
<rect x="1109.20" y="149.51" width="10.70" height="5.03" fill="#f0f0ff"/>
<rect x="1119.90" y="149.51" width="10.70" height="5.03" fill="#f7f7ff"/>
<rect x="1162.70" y="149.51" width="62.55" height="5.03" fill="#f7f7ff"/>
<rect x="910.05" y="144.48" width="6.55" height="5.03" fill="#9999ff"/>
<rect x="916.60" y="144.48" width="10.70" height="5.03" fill="#b2b2ff"/>
<rect x="927.30" y="144.48" width="10.70" height="5.03" fill="#b2b2ff"/>
<rect x="938.00" y="144.48" width="10.70" height="5.03" fill="#bfbfff"/>
<rect x="948.70" y="144.48" width="10.70" height="5.03" fill="#8080ff"/>
<rect x="970.10" y="144.48" width="10.70" height="5.03" fill="#fafaff"/>
<rect x="1034.30" y="144.48" width="10.70" height="5.03" fill="#bfbfff"/>
<rect x="1077.10" y="134.42" width="10.70" height="5.03" fill="#fff5f5"/>
<rect x="1109.20" y="134.42" width="10.70" height="5.03" fill="#2626ff"/>
<rect x="1119.90" y="134.42" width="10.70" height="5.03" fill="#ff0d0d"/>
<rect x="1130.60" y="134.42" width="21.40" height="5.03" fill="#fffafa"/>
<rect x="1152.00" y="134.42" width="10.70" height="5.03" fill="#ff0d0d"/>
<rect x="1162.70" y="134.42" width="10.70" height="5.03" fill="#fff2f2"/>
<rect x="910.05" y="129.39" width="6.55" height="5.03" fill="#1919ff"/>
<rect x="916.60" y="129.39" width="10.70" height="5.03" fill="#1919ff"/>
<rect x="970.10" y="129.39" width="10.70" height="5.03" fill="#f7f7ff"/>
<rect x="1012.90" y="129.39" width="10.70" height="5.03" fill="#1919ff"/>
<rect x="1034.30" y="129.39" width="10.70" height="5.03" fill="#b8b8ff"/>
<rect x="1045.00" y="129.39" width="10.70" height="5.03" fill="#e6e6ff"/>
<rect x="1055.70" y="129.39" width="10.70" height="5.03" fill="#f7f7ff"/>
<rect x="1077.10" y="129.39" width="10.70" height="5.03" fill="#ff0d0d"/>
<rect x="1087.80" y="129.39" width="10.70" height="5.03" fill="#ababff"/>
<rect x="1109.20" y="129.39" width="10.70" height="5.03" fill="#2626ff"/>
<rect x="1119.90" y="129.39" width="10.70" height="5.03" fill="#ffd9d9"/>
<rect x="1152.00" y="129.39" width="10.70" height="5.03" fill="#ebebff"/>
<rect x="910.05" y="124.37" width="6.55" height="5.03" fill="#e6e6ff"/>
<rect x="916.60" y="124.37" width="10.70" height="5.03" fill="#1919ff"/>
<rect x="938.00" y="124.37" width="10.70" height="5.03" fill="#ededff"/>
<rect x="948.70" y="124.37" width="10.70" height="5.03" fill="#5959ff"/>
<rect x="970.10" y="124.37" width="10.70" height="5.03" fill="#0d0dff"/>
<rect x="1002.20" y="124.37" width="10.70" height="5.03" fill="#f5f5ff"/>
<rect x="1012.90" y="124.37" width="10.70" height="5.03" fill="#f7f7ff"/>
<rect x="1109.20" y="119.34" width="10.70" height="5.03" fill="#f7f7ff"/>
<rect x="1152.00" y="119.34" width="10.70" height="5.03" fill="#ff4d4d"/>
<rect x="1012.90" y="114.31" width="10.70" height="5.03" fill="#2626ff"/>
<rect x="1077.10" y="114.31" width="10.70" height="5.03" fill="#ffbfbf"/>
<rect x="1109.20" y="114.31" width="10.70" height="5.03" fill="#ff0d0d"/>
<rect x="1119.90" y="114.31" width="10.70" height="5.03" fill="#fff0f0"/>
<rect x="1141.30" y="114.31" width="10.70" height="5.03" fill="#e6e6ff"/>
<rect x="1152.00" y="114.31" width="10.70" height="5.03" fill="#ff1919"/>
<rect x="916.60" y="109.28" width="10.70" height="5.03" fill="#0d0dff"/>
<rect x="948.70" y="109.28" width="10.70" height="5.03" fill="#c7c7ff"/>
<rect x="970.10" y="109.28" width="10.70" height="5.03" fill="#ff1919"/>
<rect x="980.80" y="109.28" width="10.70" height="5.03" fill="#4040ff"/>
<rect x="991.50" y="109.28" width="21.40" height="5.03" fill="#0d0dff"/>
<rect x="1012.90" y="109.28" width="10.70" height="5.03" fill="#ff0000"/>
<rect x="1023.60" y="109.28" width="10.70" height="5.03" fill="#d4d4ff"/>
<rect x="1034.30" y="109.28" width="10.70" height="5.03" fill="#f2f2ff"/>
<rect x="1077.10" y="109.28" width="10.70" height="5.03" fill="#ffe6e6"/>
<rect x="1109.20" y="109.28" width="10.70" height="5.03" fill="#f2f2ff"/>
<rect x="948.70" y="104.25" width="10.70" height="5.03" fill="#f5f5ff"/>
<rect x="970.10" y="104.25" width="10.70" height="5.03" fill="#f0f0ff"/>
<rect x="1109.20" y="99.23" width="10.70" height="5.03" fill="#ffe6e6"/>
<rect x="1141.30" y="99.23" width="10.70" height="5.03" fill="#f7f7ff"/>
<rect x="1152.00" y="99.23" width="10.70" height="5.03" fill="#ff1919"/>
<rect x="991.50" y="94.20" width="10.70" height="5.03" fill="#9999ff"/>
<rect x="1002.20" y="94.20" width="10.70" height="5.03" fill="#ebebff"/>
<rect x="1012.90" y="94.20" width="10.70" height="5.03" fill="#ff9999"/>
<rect x="1045.00" y="94.20" width="10.70" height="5.03" fill="#ffd9d9"/>
<rect x="1066.40" y="94.20" width="10.70" height="5.03" fill="#fffafa"/>
<rect x="1077.10" y="94.20" width="10.70" height="5.03" fill="#ff9999"/>
<rect x="1087.80" y="94.20" width="10.70" height="5.03" fill="#ebebff"/>
<rect x="1098.50" y="94.20" width="10.70" height="5.03" fill="#fafaff"/>
<rect x="1109.20" y="94.20" width="10.70" height="5.03" fill="#ffe0e0"/>
<rect x="948.70" y="89.17" width="10.70" height="5.03" fill="#ededff"/>
<rect x="970.10" y="89.17" width="42.80" height="5.03" fill="#1919ff"/>
<rect x="1012.90" y="89.17" width="10.70" height="5.03" fill="#e0e0ff"/>
<rect x="1087.80" y="79.11" width="32.10" height="5.03" fill="#f7f7ff"/>
<rect x="1141.30" y="79.11" width="10.70" height="5.03" fill="#f7f7ff"/>
<rect x="1184.10" y="79.11" width="10.70" height="5.03" fill="#ccccff"/>
<rect x="980.80" y="74.09" width="10.70" height="5.03" fill="#f0f0ff"/>
<rect x="991.50" y="74.09" width="10.70" height="5.03" fill="#c7c7ff"/>
<rect x="980.80" y="69.06" width="10.70" height="5.03" fill="#d9d9ff"/>
<rect x="991.50" y="69.06" width="10.70" height="5.03" fill="#e0e0ff"/>
<rect x="980.80" y="64.03" width="10.70" height="5.03" fill="#d9d9ff"/>
<rect x="991.50" y="64.03" width="10.70" height="5.03" fill="#6666ff"/>
<rect x="970.10" y="59.00" width="10.70" height="5.03" fill="#f0f0ff"/>
<rect x="980.80" y="59.00" width="10.70" height="5.03" fill="#5959ff"/>
<rect x="991.50" y="59.00" width="10.70" height="5.03" fill="#9999ff"/>
<rect x="959.40" y="53.97" width="10.70" height="5.03" fill="#ccccff"/>
<rect x="970.10" y="53.97" width="10.70" height="5.03" fill="#8080ff"/>
<rect x="980.80" y="53.97" width="10.70" height="5.03" fill="#4d4dff"/>
<rect x="991.50" y="53.97" width="10.70" height="5.03" fill="#f0f0ff"/>
</g>
<rect x="925.20" y="52.75" width="4.2" height="7.5" fill="#000"/>
<rect x="925.20" y="454.65" width="4.2" height="9.5" fill="#000"/>
<text transform="translate(927.70,494.2) scale(0.992,1)" text-anchor="middle" font-family="'Liberation Sans', Arial, Helvetica, sans-serif" font-weight="bold" font-size="23.6">120</text>
<rect x="1032.20" y="52.75" width="4.2" height="7.5" fill="#000"/>
<rect x="1032.20" y="454.65" width="4.2" height="9.5" fill="#000"/>
<text transform="translate(1034.70,494.2) scale(0.992,1)" text-anchor="middle" font-family="'Liberation Sans', Arial, Helvetica, sans-serif" font-weight="bold" font-size="23.6">130</text>
<rect x="1139.20" y="52.75" width="4.2" height="7.5" fill="#000"/>
<rect x="1139.20" y="454.65" width="4.2" height="9.5" fill="#000"/>
<text transform="translate(1141.70,494.2) scale(0.992,1)" text-anchor="middle" font-family="'Liberation Sans', Arial, Helvetica, sans-serif" font-weight="bold" font-size="23.6">140</text>
<rect x="910.05" y="439.03" width="8.5" height="4.2" fill="#000"/>
<rect x="1215.25" y="439.03" width="10.0" height="4.2" fill="#000"/>
<text transform="translate(899.90,449.93) scale(0.992,1)" text-anchor="end" font-family="'Liberation Sans', Arial, Helvetica, sans-serif" font-weight="bold" font-size="23.6">590</text>
<rect x="910.05" y="388.75" width="8.5" height="4.2" fill="#000"/>
<rect x="1215.25" y="388.85" width="10.0" height="2.0" fill="#000"/>
<text transform="translate(899.90,399.65) scale(0.992,1)" text-anchor="end" font-family="'Liberation Sans', Arial, Helvetica, sans-serif" font-weight="bold" font-size="23.6">600</text>
<rect x="910.05" y="338.47" width="8.5" height="4.2" fill="#000"/>
<rect x="1215.25" y="338.57" width="10.0" height="2.0" fill="#000"/>
<text transform="translate(899.90,349.37) scale(0.992,1)" text-anchor="end" font-family="'Liberation Sans', Arial, Helvetica, sans-serif" font-weight="bold" font-size="23.6">610</text>
<rect x="910.05" y="288.19" width="8.5" height="4.2" fill="#000"/>
<rect x="1215.25" y="288.19" width="10.0" height="2.4" fill="#000"/>
<text transform="translate(899.90,299.09) scale(0.992,1)" text-anchor="end" font-family="'Liberation Sans', Arial, Helvetica, sans-serif" font-weight="bold" font-size="23.6">620</text>
<rect x="910.05" y="237.91" width="8.5" height="4.2" fill="#000"/>
<rect x="1215.25" y="237.91" width="10.0" height="4.2" fill="#000"/>
<text transform="translate(899.90,248.81) scale(0.992,1)" text-anchor="end" font-family="'Liberation Sans', Arial, Helvetica, sans-serif" font-weight="bold" font-size="23.6">630</text>
<rect x="910.05" y="187.63" width="8.5" height="4.2" fill="#000"/>
<rect x="1215.25" y="187.63" width="10.0" height="4.2" fill="#000"/>
<text transform="translate(899.90,198.53) scale(0.992,1)" text-anchor="end" font-family="'Liberation Sans', Arial, Helvetica, sans-serif" font-weight="bold" font-size="23.6">640</text>
<rect x="910.05" y="137.35" width="8.5" height="4.2" fill="#000"/>
<rect x="1215.25" y="138.95" width="10.0" height="2.6" fill="#000"/>
<text transform="translate(899.90,148.25) scale(0.992,1)" text-anchor="end" font-family="'Liberation Sans', Arial, Helvetica, sans-serif" font-weight="bold" font-size="23.6">650</text>
<rect x="910.05" y="87.07" width="8.5" height="4.2" fill="#000"/>
<rect x="1215.25" y="87.07" width="10.0" height="4.2" fill="#000"/>
<text transform="translate(899.90,97.97) scale(0.992,1)" text-anchor="end" font-family="'Liberation Sans', Arial, Helvetica, sans-serif" font-weight="bold" font-size="23.6">660</text>
<rect x="907.9" y="50.6" width="319.5000000000001" height="415.7" fill="none" stroke="#000" stroke-width="4.3"/>
<rect x="916.6" y="25.6" width="99.20" height="10.20" fill="#000"/>
<rect x="1047.5" y="25.6" width="156.70" height="10.20" fill="#000"/>
<text transform="translate(939.60,21.6) scale(1.22,1)" font-family="'Liberation Serif', 'DejaVu Serif', serif" font-size="28">α</text>
<text x="957.30" y="21.6" font-family="'Liberation Sans', Arial, Helvetica, sans-serif" font-weight="bold" font-size="27.3">A</text>
<text transform="translate(1095.60,21.6) scale(1.22,1)" font-family="'Liberation Serif', 'DejaVu Serif', serif" font-size="28">α</text>
<text x="1113.90" y="21.6" font-family="'Liberation Sans', Arial, Helvetica, sans-serif" font-weight="bold" font-size="27.3">B</text>
<text transform="translate(839.7,60.0) scale(0.915,1)" font-family="'Liberation Sans', Arial, Helvetica, sans-serif" font-weight="bold" font-size="45">C</text>
<text transform="translate(998.10,527.8) scale(1.052,1)" font-family="'Liberation Sans', Arial, Helvetica, sans-serif" font-weight="bold" font-size="24.1">pKID Index</text>
<text transform="translate(855.5,316.6) rotate(-90) scale(1.08,1)" font-family="'Liberation Sans', Arial, Helvetica, sans-serif" font-weight="bold" font-size="23.2">KIX Index</text>
</g>
<circle cx="729.8" cy="59.8" r="1.2" fill="#000"/><circle cx="802.9" cy="339.5" r="1.0" fill="#000"/><circle cx="1070.7" cy="532.2" r="1.1" fill="#000"/>
<defs><linearGradient id="cb" x1="0" y1="0" x2="0" y2="1"><stop offset="0" stop-color="#ff0000"/><stop offset="0.5" stop-color="#ffffff"/><stop offset="1" stop-color="#0000ff"/></linearGradient></defs>
<rect x="1268.8" y="48.6" width="31.50" height="412.40" fill="url(#cb)" stroke="#1a1a1a" stroke-width="1.3"/>
<text transform="translate(1306.0,58.20) scale(0.92,1)" font-family="'Liberation Sans', Arial, Helvetica, sans-serif" font-weight="bold" font-size="26">1</text>
<rect x="1268.8" y="151.10" width="4" height="1.2" fill="#1a1a1a"/>
<rect x="1296.3" y="151.10" width="4" height="1.2" fill="#1a1a1a"/>
<text transform="translate(1306.0,161.30) scale(0.92,1)" font-family="'Liberation Sans', Arial, Helvetica, sans-serif" font-weight="bold" font-size="26">0.5</text>
<rect x="1268.8" y="254.20" width="4" height="1.2" fill="#1a1a1a"/>
<rect x="1296.3" y="254.20" width="4" height="1.2" fill="#1a1a1a"/>
<text transform="translate(1306.0,264.40) scale(0.92,1)" font-family="'Liberation Sans', Arial, Helvetica, sans-serif" font-weight="bold" font-size="26">0</text>
<rect x="1268.8" y="357.30" width="4" height="1.2" fill="#1a1a1a"/>
<rect x="1296.3" y="357.30" width="4" height="1.2" fill="#1a1a1a"/>
<text transform="translate(1306.0,367.50) scale(0.92,1)" font-family="'Liberation Sans', Arial, Helvetica, sans-serif" font-weight="bold" font-size="26">-0.5</text>
<text transform="translate(1306.0,470.60) scale(0.92,1)" font-family="'Liberation Sans', Arial, Helvetica, sans-serif" font-weight="bold" font-size="26">-1</text>
<rect x="1354.1" y="62" width="2.2" height="158.3" fill="#000"/>
<path d="M1355.2 55.6 L1358.1 64.6 L1352.3 64.6 Z" fill="#000"/>
<rect x="1357.0" y="279.6" width="2.2" height="166" fill="#000"/>
<path d="M1358.1 452.4 L1361.0 443.4 L1355.2 443.4 Z" fill="#000"/>
<text transform="translate(1392.3,222.3) rotate(-90) scale(1,1.1)" textLength="162.2" lengthAdjust="spacingAndGlyphs" font-family="'Liberation Sans', Arial, Helvetica, sans-serif" font-size="22.5">Native contact</text>
<text transform="translate(1392.3,474.0) rotate(-90) scale(1,1.1)" textLength="212" lengthAdjust="spacingAndGlyphs" font-family="'Liberation Sans', Arial, Helvetica, sans-serif" font-size="22.5">Non-native contact</text></svg>
</body></html>
